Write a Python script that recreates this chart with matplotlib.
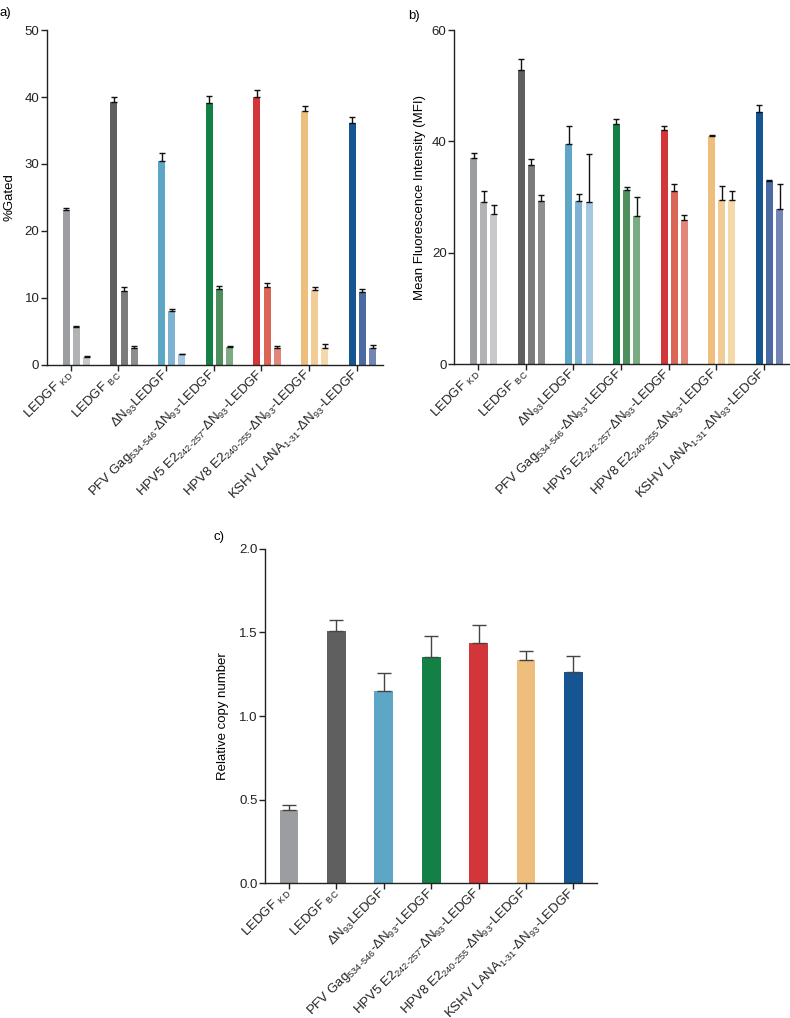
import matplotlib
matplotlib.use("Agg")
import matplotlib.pyplot as plt
import matplotlib.transforms as mtrans
import numpy as np

plt.rcParams['font.family'] = ['Liberation Sans', 'DejaVu Sans']
plt.rcParams['mathtext.fontset'] = 'custom'
plt.rcParams['mathtext.rm'] = 'Liberation Sans'
plt.rcParams['mathtext.it'] = 'Liberation Sans'
plt.rcParams['mathtext.default'] = 'regular'

labels = [
    "LEDGF $_{KD}$",
    "LEDGF $_{BC}$",
    "ΔN$_{93}$LEDGF",
    r"PFV Gag$_{\text{534-546}}$-ΔN$_{93}$-LEDGF",
    r"HPV5 E2$_{\text{242-257}}$-ΔN$_{93}$-LEDGF",
    r"HPV8 E2$_{\text{240-255}}$-ΔN$_{93}$-LEDGF",
    r"KSHV LANA$_{\text{1-31}}$-ΔN$_{93}$-LEDGF",
]

colors = [
    ["#9c9da1", "#b1b2b4", "#c8c8ca"],
    ["#5f5f5f", "#7b7b7b", "#8e8e8e"],
    ["#5ea6c6", "#7fb1d3", "#a4c8e0"],
    ["#138146", "#4f8f5e", "#7aab82"],
    ["#d2353a", "#db6655", "#e2867a"],
    ["#eebf7c", "#f1cc96", "#f5d9ab"],
    ["#155591", "#4b6aa3", "#7385b4"],
]

# panel a: %Gated (3 bars per construct)
gated = [
    [23.2, 5.6, 1.2],
    [39.2, 11.1, 2.6],
    [30.5, 8.0, 1.6],
    [39.05, 11.3, 2.75],
    [40.05, 11.6, 2.6],
    [37.9, 11.2, 2.5],
    [36.1, 10.9, 2.6],
]
gated_err = [
    [0.3, 0.25, 0.1],
    [0.8, 0.5, 0.3],
    [1.2, 0.35, 0.05],
    [1.05, 0.5, 0.05],
    [0.95, 0.7, 0.3],
    [0.7, 0.5, 0.7],
    [0.9, 0.4, 0.35],
]

# panel b: MFI
mfi = [
    [37.1, 29.2, 26.9],
    [52.75, 35.8, 29.3],
    [39.5, 29.3, 29.2],
    [43.1, 31.2, 26.6],
    [42.0, 31.1, 25.9],
    [41.0, 29.5, 29.5],
    [45.2, 32.9, 27.9],
]
mfi_err = [
    [0.9, 1.9, 1.7],
    [2.15, 1.1, 1.1],
    [3.3, 1.3, 8.5],
    [1.0, 0.7, 3.5],
    [0.7, 1.2, 0.8],
    [0.2, 2.5, 1.6],
    [1.3, 0.15, 4.4],
]

# panel c: relative copy number
copy = [0.436, 1.508, 1.149, 1.353, 1.434, 1.333, 1.265]
copy_err = [0.032, 0.066, 0.11, 0.125, 0.108, 0.057, 0.094]

fig = plt.figure(figsize=(7.9, 10.18), dpi=100)

offsets = [-0.095, 0.118, 0.331]
bw = 0.147
tick_fs = 9.5
xl_fs = 8.9
lab_fs = 9.5

def style(ax):
    for s in ['top', 'right']:
        ax.spines[s].set_visible(False)
    for s in ['left', 'bottom']:
        ax.spines[s].set_linewidth(1.0)
        ax.spines[s].set_color('#222222')
    ax.tick_params(axis='both', direction='out', length=4, width=1.0,
                   labelsize=tick_fs, colors='#222222', pad=1.5)

def xlabels(ax, dx=5, dy=-5):
    ax.set_xticklabels(labels, rotation=45, ha='right', va='center',
                       rotation_mode='anchor', fontsize=xl_fs)
    off = mtrans.ScaledTranslation(dx / 72, dy / 72, fig.dpi_scale_trans)
    for t in ax.get_xticklabels():
        t.set_transform(t.get_transform() + off)

def grouped(ax, vals, errs, ymax, step, ylabel):
    x = np.arange(len(vals))
    for g in range(len(vals)):
        for k in range(3):
            ax.bar(x[g] + offsets[k], vals[g][k], width=bw, color=colors[g][k],
                   edgecolor='none', zorder=2)
            ax.errorbar(x[g] + offsets[k], vals[g][k], yerr=[[0], [errs[g][k]]],
                        fmt='none', ecolor='#111111', elinewidth=1.0,
                        capsize=2.4, capthick=1.0, zorder=3)
    ax.set_xlim(-0.5, 6.55)
    ax.set_ylim(0, ymax)
    ax.set_yticks(np.arange(0, ymax + 0.01, step))
    ax.set_xticks(x)
    xlabels(ax)
    ax.set_ylabel(ylabel, fontsize=lab_fs)
    style(ax)

axa = fig.add_axes([0.0595, 0.6415, 0.4253, 0.329])
grouped(axa, gated, gated_err, 50, 10, "%Gated")
axa.yaxis.set_label_coords(-0.095, 0.5)

axb = fig.add_axes([0.575, 0.6424, 0.425, 0.328])
grouped(axb, mfi, mfi_err, 60, 20, "Mean Fluorescence Intensity (MFI)")
axb.yaxis.set_label_coords(-0.085, 0.5)

axc = fig.add_axes([0.3358, 0.1323, 0.42, 0.3287])
xc = np.arange(len(copy))
for i in range(len(copy)):
    axc.bar(xc[i], copy[i], width=0.4, color=colors[i][0], edgecolor='none', zorder=2)
axc.errorbar(xc, copy, yerr=[np.zeros(len(copy)), copy_err], fmt='none',
             ecolor='#444444', elinewidth=1.0, capsize=5, capthick=1.0, zorder=3)
axc.set_xlim(-0.5, 6.5)
axc.set_ylim(0, 2.0)
axc.set_yticks([0.0, 0.5, 1.0, 1.5, 2.0])
axc.set_yticklabels(["0.0", "0.5", "1.0", "1.5", "2.0"])
axc.set_xticks(xc)
xlabels(axc, dx=5, dy=-4)
axc.set_ylabel("Relative copy number", fontsize=lab_fs)
axc.yaxis.set_label_coords(-0.11, 0.5)
style(axc)

fig.text(0.0, 0.993, "a)", fontsize=lab_fs, va='top', ha='left')
fig.text(0.517, 0.99, "b)", fontsize=lab_fs, va='top', ha='left')
fig.text(0.27, 0.478, "c)", fontsize=lab_fs, va='top', ha='left')

fig.savefig("out.png", dpi=100)
